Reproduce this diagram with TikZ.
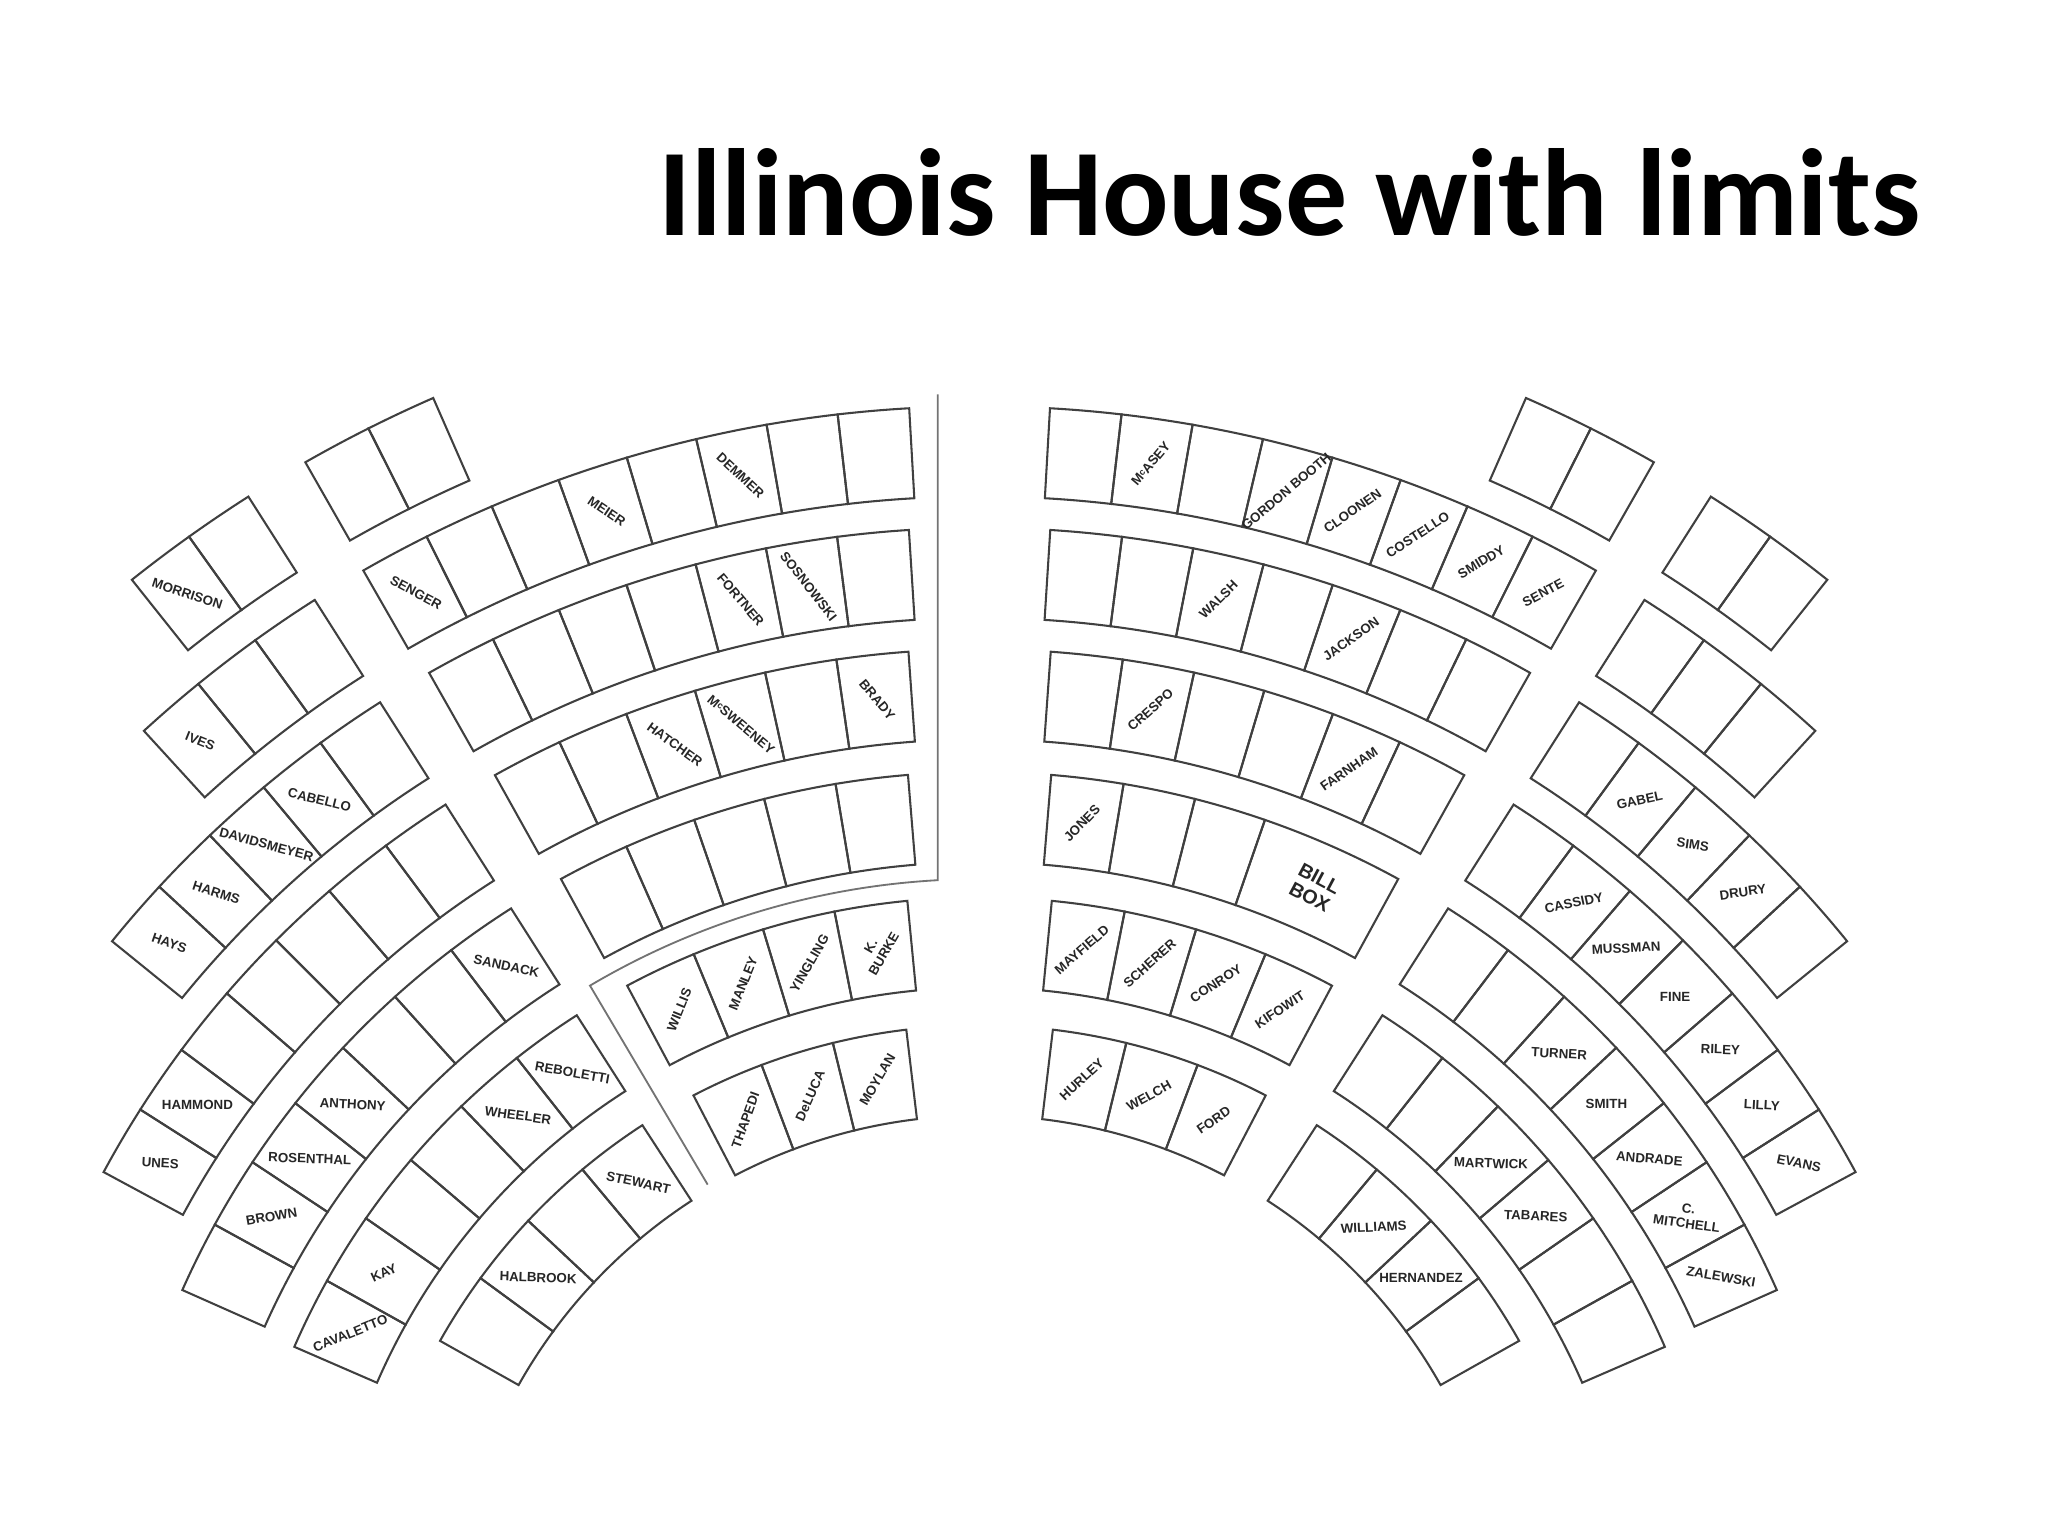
\documentclass[tikz,border=0pt]{standalone}
\usepackage{fontspec}
\newfontfamily\titlefont{Carlito}
\newfontfamily\seatfont{Liberation Sans}
\newcommand{\supc}{\raisebox{0.35ex}{\fontsize{2}{2}\selectfont c}}
\tikzset{
  seat/.style={draw=black!75, line width=0.45pt},
  who/.style={font=\seatfont\bfseries\fontsize{2.9}{3.3}\selectfont, align=center, inner sep=0pt, text=black!85},
  rail/.style={draw=black!55, line width=0.4pt}
}
\newcommand{\seatgroup}[6]{%
  \pgfmathsetmacro\seatro{#2}%
  \pgfmathsetmacro\seatri{#2-69}%
  \pgfmathsetmacro\seatrm{#2-34.5}%
  \pgfmathsetmacro\seatda{#4*#5/\seatrm*180/pi}%
  \foreach \who/\rot [count=\i] in {#6} {
    \pgfmathsetmacro\seatA{#3+(\i-1)*\seatda}
    \pgfmathsetmacro\seatB{#3+\i*\seatda}
    \pgfmathsetmacro\seatM{#3+(\i-0.5)*\seatda}
    \draw[seat] (\seatA:\seatri) -- (\seatA:\seatro)
      arc[start angle=\seatA, end angle=\seatB, radius=\seatro]
      -- (\seatB:\seatri)
      arc[start angle=\seatB, end angle=\seatA, radius=\seatri] -- cycle;
    \node[who, rotate=\rot] (#1-\i) at (\seatM:\seatrm) {\who};
  }%
}
\begin{document}
\begin{tikzpicture}[x=0.01cm, y=0.01cm]
  \useasboundingbox (0,0) rectangle (1568,-1176);
  \node[font=\titlefont\bfseries\fontsize{27}{32}\selectfont, anchor=base] (title) at (987,-180) {Illinois House with limits};
  \begin{scope}[shift={(750,-1259)}]
    \seatgroup{LZ1}{1042}{119.7}{-1}{53}{{}/0, {}/0}
    \seatgroup{LZ2}{1042}{122.5}{1}{53}{{}/0, MORRISON/-18}
    \seatgroup{LA}{948}{93.26}{1}{53}{{}/0, {}/0, DEMMER/-43, {}/0, MEIER/-34, {}/0, {}/0, SENGER/-28}
    \seatgroup{LA2}{948}{122.48}{1}{53}{{}/0, {}/0, IVES/-22}
    \seatgroup{LB}{855}{93.63}{1}{53}{{}/0, SOSNOWSKI/-52, FORTNER/-50, {}/0, {}/0, {}/0, {}/0}
    \seatgroup{LB2}{855}{122.47}{1}{53}{{}/0, CABELLO/-14, DAVIDSMEYER/-15, HARMS/-18, HAYS/-19}
    \seatgroup{LC}{762}{94.10}{1}{53}{BRADY/-50, {}/0, {M\supc SWEENEY}/-40, HATCHER/-36, {}/0, {}/0}
    \seatgroup{LC2}{762}{122.45}{1}{53}{{}/0, {}/0, {}/0, {}/0, {}/0, HAMMOND/0, UNES/-3}
    \seatgroup{LD}{668}{94.71}{1}{53}{{}/0, {}/0, {}/0, {}/0, {}/0}
    \seatgroup{LD2}{668}{122.48}{1}{53}{SANDACK/-12, {}/0, {}/0, ANTHONY/-3, ROSENTHAL/-2, BROWN/10, {}/0}
    \seatgroup{LE}{572}{95.55}{1}{53}{{K.\\BURKE}/60, YINGLING/60, MANLEY/68, WILLIS/68}
    \seatgroup{LE2}{572}{122.63}{1}{53}{REBOLETTI/-10, WHEELER/-8, {}/0, {}/0, KAY/25, CAVALETTO/22}
    \seatgroup{LF}{474}{96.80}{1}{53}{MOYLAN/60, DeLUCA/66, THAPEDI/70}
    \seatgroup{LF2}{474}{123.0}{1}{53}{STEWART/-12, {}/0, HALBROOK/-2, {}/0}
    \draw[rail] (-32,957) -- (93.13:586) arc[start angle=93.13, end angle=120.6, radius=586] -- (120.6:409);
    \seatgroup{RZ1}{1042}{60.3}{1}{53}{{}/0, {}/0}
    \seatgroup{RZ2}{1042}{57.5}{-1}{53}{{}/0, {}/0}
    \seatgroup{RA}{948}{86.74}{-1}{53}{{}/0, {M\supc ASEY}/50, {}/0, {GORDON BOOTH}/40, CLOONEN/35, COSTELLO/33, SMIDDY/31, SENTE/28}
    \seatgroup{RA2}{948}{57.52}{-1}{53}{{}/0, {}/0, {}/0}
    \seatgroup{RB}{855}{86.37}{-1}{53}{{}/0, {}/0, WALSH/45, {}/0, JACKSON/35, {}/0, {}/0}
    \seatgroup{RB2}{855}{57.53}{-1}{53}{{}/0, GABEL/12, SIMS/-8, DRURY/8, {}/0}
    \seatgroup{RC}{762}{85.90}{-1}{53}{{}/0, CRESPO/42, {}/0, {}/0, FARNHAM/35, {}/0}
    \seatgroup{RC2}{762}{57.55}{-1}{53}{{}/0, CASSIDY/12, MUSSMAN/3, FINE/0, RILEY/-2, LILLY/-3, EVANS/-12}
    \seatgroup{RD}{668}{85.29}{-1}{53}{JONES/46, {}/0, {}/0}
    \seatgroup{RDB}{668}{70.91}{-1}{106}{{}/0}
    \node[who, font=\seatfont\bfseries\fontsize{4.3}{4.6}\selectfont, rotate=-28] (billbox) at (66.12:633.5) {BILL\\BOX};
    \seatgroup{RD2}{668}{57.52}{-1}{53}{{}/0, {}/0, TURNER/-3, SMITH/0, ANDRADE/-5, {C.\\MITCHELL}/-8, ZALEWSKI/-10}
    \seatgroup{RE}{572}{84.45}{-1}{53}{MAYFIELD/41, SCHERER/42, CONROY/33, KIFOWIT/33}
    \seatgroup{RE2}{572}{57.37}{-1}{53}{{}/0, {}/0, MARTWICK/-2, TABARES/-3, {}/0, {}/0}
    \seatgroup{RF}{474}{83.20}{-1}{53}{HURLEY/43, WELCH/29, FORD/35}
    \seatgroup{RF2}{474}{57.0}{-1}{53}{{}/0, WILLIAMS/3, HERNANDEZ/0, {}/0}
  \end{scope}
\end{tikzpicture}
\end{document}
